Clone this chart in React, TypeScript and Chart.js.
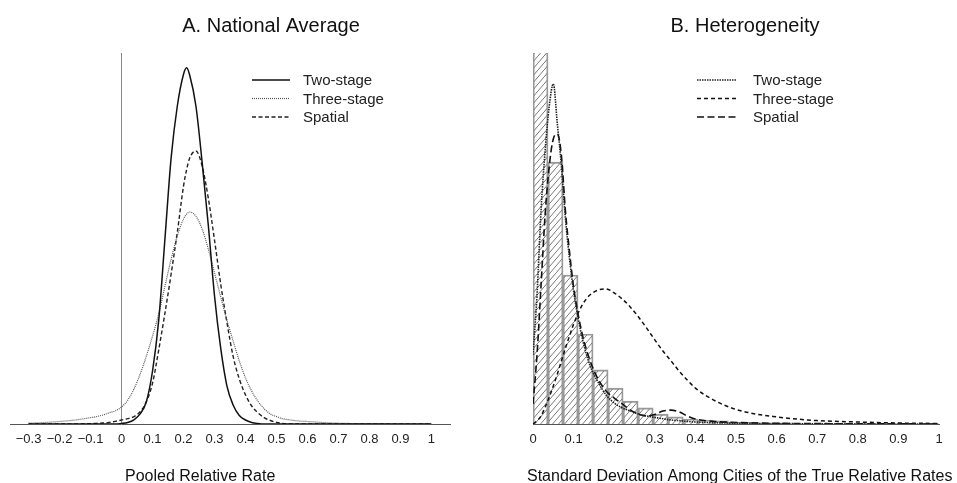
import React, { useEffect, useRef } from "react";
import { Chart, registerables } from "chart.js";

Chart.register(...registerables);

const FONT = "'Liberation Sans', Arial, Helvetica, sans-serif";
Chart.defaults.font.family = FONT;
Chart.defaults.color = "#222";

// ---------- Panel A: National Average ----------
const A_X = [-0.3, -0.25, -0.2, -0.15, -0.1, -0.08, -0.06, -0.04, -0.02,
  0, 0.02, 0.04, 0.06, 0.08, 0.1, 0.12, 0.14, 0.16, 0.18, 0.2, 0.21, 0.22, 0.24, 0.26, 0.28, 0.3,
  0.32, 0.34, 0.36, 0.38, 0.4, 0.42, 0.44, 0.46, 0.48, 0.5, 0.52, 0.54, 0.56, 0.58, 0.6,
  0.65, 0.7, 0.8, 0.9, 1.0];
const A_TWO_STAGE = [0, 0, 0, 0, 0, 0, 0, 0, 0,
  0.01, 0.03, 0.08, 0.19, 0.42, 1.0, 1.96, 3.49, 5.02, 6.0, 6.6, 6.72, 6.58, 6.0, 4.94, 3.75, 2.42,
  1.43, 0.72, 0.36, 0.16, 0.075, 0.03, 0.01, 0, 0, 0, 0, 0, 0, 0, 0,
  0, 0, 0, 0, 0];
const A_THREE_STAGE = [0.015, 0.028, 0.047, 0.075, 0.12, 0.14, 0.17, 0.21, 0.25,
  0.32, 0.45, 0.66, 0.94, 1.28, 1.66, 2.08, 2.6, 3.11, 3.55, 3.87, 3.96, 4.0, 3.92, 3.68, 3.3, 2.85,
  2.4, 1.96, 1.57, 1.19, 0.87, 0.62, 0.43, 0.29, 0.19, 0.14, 0.1, 0.08, 0.064, 0.053, 0.047,
  0.028, 0.015, 0.004, 0, 0];
const A_SPATIAL = [0, 0, 0, 0.002, 0.006, 0.012, 0.02, 0.03, 0.05,
  0.075, 0.1, 0.14, 0.23, 0.42, 0.77, 1.4, 2.09, 2.83, 3.62, 4.49, 4.8, 5.02, 5.15, 4.87, 4.26, 3.47,
  2.64, 1.92, 1.28, 0.85, 0.55, 0.34, 0.21, 0.12, 0.066, 0.03, 0.011, 0.004, 0, 0, 0,
  0, 0, 0, 0, 0];
const A_TICKS = [-0.3, -0.2, -0.1, 0, 0.1, 0.2, 0.3, 0.4, 0.5, 0.6, 0.7, 0.8, 0.9, 1];
const A_TICK_LABELS = ["\u22120.3", "\u22120.2", "\u22120.1", "0", "0.1", "0.2", "0.3", "0.4", "0.5", "0.6", "0.7", "0.8", "0.9", "1"];

// ---------- Panel B: Heterogeneity ----------
const B_X = [0, 0.01, 0.02, 0.03, 0.04, 0.05, 0.06, 0.07, 0.08, 0.09, 0.1,
  0.12, 0.14, 0.16, 0.18, 0.2, 0.22, 0.24, 0.26, 0.28, 0.3, 0.32, 0.34, 0.36, 0.38, 0.4,
  0.45, 0.5, 0.55, 0.6, 0.65, 0.7, 0.8, 0.9, 1.0];
const B_TWO_STAGE = [2.23, 4.2, 6.95, 8.86, 10.28, 11.0, 9.7, 8.34, 6.63, 5.34, 4.3,
  2.85, 1.91, 1.36, 0.94, 0.68, 0.52, 0.42, 0.32, 0.26, 0.21, 0.17, 0.13, 0.11, 0.084, 0.065,
  0.039, 0.026, 0.019, 0.013, 0.01, 0.006, 0.003, 0.002, 0];
const B_THREE_STAGE = [0, 0.1, 0.26, 0.55, 0.87, 1.23, 1.62, 2.04, 2.46, 2.85, 3.23,
  3.82, 4.17, 4.33, 4.37, 4.24, 4.04, 3.78, 3.46, 3.1, 2.72, 2.36, 2.04, 1.71, 1.42, 1.16,
  0.74, 0.47, 0.32, 0.23, 0.16, 0.11, 0.065, 0.032, 0.016];
const B_SPATIAL = [0.65, 2.26, 4.53, 6.79, 8.34, 9.22, 9.38, 8.67, 6.86, 5.56, 4.43,
  2.98, 2.07, 1.46, 1.07, 0.84, 0.65, 0.45, 0.32, 0.26, 0.31, 0.42, 0.45, 0.39, 0.26, 0.16,
  0.08, 0.049, 0.032, 0.023, 0.016, 0.013, 0.006, 0.003, 0.002];
const HIST_X = [0.0185, 0.0555, 0.0925, 0.1295, 0.1665, 0.2035, 0.2405, 0.2775, 0.3145,
  0.3515, 0.3885, 0.4255, 0.4625, 0.4995, 0.5365, 0.5735, 0.6105];
const HIST_Y = [14, 8.47, 4.82, 2.91, 1.75, 1.16, 0.74, 0.52, 0.32, 0.23, 0.16, 0.13, 0.1,
  0.065, 0.05, 0.03, 0.02];
const B_TICKS = [0, 0.1, 0.2, 0.3, 0.4, 0.5, 0.6, 0.7, 0.8, 0.9, 1];
const B_TICK_LABELS = ["0", "0.1", "0.2", "0.3", "0.4", "0.5", "0.6", "0.7", "0.8", "0.9", "1"];

const pts = (xs: number[], ys: number[]) => xs.map((x, i) => ({ x, y: ys[i] }));

const panelText = {
  id: "panelText",
  afterDraw(chart: any, _args: any, opts: any) {
    const ctx: CanvasRenderingContext2D = chart.ctx;
    ctx.save();
    ctx.fillStyle = "#111";
    ctx.textAlign = "center";
    ctx.textBaseline = "alphabetic";
    ctx.font = `20px ${FONT}`;
    ctx.fillText(opts.title, opts.titleX, opts.titleY);
    ctx.font = `16px ${FONT}`;
    ctx.textAlign = "left";
    ctx.fillText(opts.xTitle, opts.xTitleX, opts.xTitleY);
    ctx.font = `15px ${FONT}`;
    ctx.textBaseline = "middle";
    let row = 0;
    chart.data.datasets.forEach((ds: any) => {
      if (ds.type === "bar") return;
      const y = opts.legendY + row * opts.legendRow;
      ctx.save();
      ctx.strokeStyle = ds.borderColor;
      ctx.lineWidth = ds.borderWidth;
      ctx.setLineDash(ds.borderDash || []);
      ctx.beginPath();
      ctx.moveTo(opts.legendX, y);
      ctx.lineTo(opts.legendX + opts.legendLine, y);
      ctx.stroke();
      ctx.restore();
      ctx.fillStyle = "#222";
      ctx.fillText(ds.label, opts.legendX + opts.legendLine + opts.legendGap, y + 1);
      row++;
    });
    ctx.restore();
  },
};

function makeHatch(): CanvasPattern | string {
  const c = document.createElement("canvas");
  c.width = 6;
  c.height = 7;
  const g = c.getContext("2d");
  if (!g) return "rgba(0,0,0,0)";
  g.strokeStyle = "#7a7a7a";
  g.lineWidth = 1;
  g.beginPath();
  g.moveTo(-1, 7 + 7 / 6);
  g.lineTo(7, -7 / 6);
  g.stroke();
  return g.createPattern(c, "repeat") || "rgba(0,0,0,0)";
}

function xScale(min: number, max: number, ticks: number[], labels: string[], borderColor: string) {
  return {
    type: "linear",
    min,
    max,
    offset: false,
    afterBuildTicks: (s: any) => {
      s.ticks = ticks.map((v) => ({ value: v }));
    },
    ticks: {
      autoSkip: false,
      maxRotation: 0,
      padding: 8,
      font: { size: 13 },
      color: "#222",
      callback: (_v: any, i: number) => labels[i],
    },
    grid: { display: false, drawTicks: false, offset: false },
    border: { display: true, color: borderColor, width: 1 },
  };
}

function buildA(): any {
  return {
    type: "line",
    data: {
      datasets: [
        { label: "Two-stage", data: pts(A_X, A_TWO_STAGE), borderColor: "#111", borderWidth: 1.5, borderDash: [] },
        { label: "Three-stage", data: pts(A_X, A_THREE_STAGE), borderColor: "#555", borderWidth: 1.2, borderDash: [1, 1] },
        { label: "Spatial", data: pts(A_X, A_SPATIAL), borderColor: "#222", borderWidth: 1.4, borderDash: [4, 2.5] },
      ],
    },
    options: {
      responsive: false,
      animation: false,
      layout: { padding: { left: 10, right: 28, top: 53, bottom: 27.4 } },
      elements: { point: { radius: 0 }, line: { cubicInterpolationMode: "monotone", fill: false } },
      plugins: {
        legend: { display: false },
        tooltip: { enabled: false },
        title: { display: false },
        panelText: {
          title: "A. National Average", titleX: 271, titleY: 32,
          xTitle: "Pooled Relative Rate", xTitleX: 125, xTitleY: 481,
          legendX: 252, legendY: 80, legendRow: 18.5, legendLine: 38, legendGap: 13,
        },
      },
      scales: {
        x: xScale(-0.36, 1.06, A_TICKS, A_TICK_LABELS, "#555"),
        y: {
          type: "linear",
          position: { x: 0 },
          min: 0,
          max: 7,
          ticks: { display: false },
          grid: { display: false, drawTicks: false },
          border: { display: true, color: "#888", width: 1 },
        },
      },
    },
    plugins: [panelText],
  };
}

function buildB(): any {
  return {
    type: "line",
    data: {
      datasets: [
        { label: "Two-stage", data: pts(B_X, B_TWO_STAGE), borderColor: "#222", borderWidth: 1.6, borderDash: [1.5, 1] },
        { label: "Three-stage", data: pts(B_X, B_THREE_STAGE), borderColor: "#111", borderWidth: 1.5, borderDash: [4, 3] },
        { label: "Spatial", data: pts(B_X, B_SPATIAL), borderColor: "#111", borderWidth: 1.6, borderDash: [7, 3.5] },
        {
          type: "bar",
          label: "Histogram",
          data: pts(HIST_X, HIST_Y),
          backgroundColor: makeHatch(),
          borderColor: "#999",
          borderWidth: 1.2,
          borderSkipped: "start",
          barPercentage: 1,
          categoryPercentage: 1,
          order: 5,
          clip: 0,
        },
      ],
    },
    options: {
      responsive: false,
      animation: false,
      layout: { padding: { left: 55, right: 18, top: 53, bottom: 27.4 } },
      elements: { point: { radius: 0 }, line: { cubicInterpolationMode: "monotone", fill: false } },
      plugins: {
        legend: { display: false },
        tooltip: { enabled: false },
        title: { display: false },
        panelText: {
          title: "B. Heterogeneity", titleX: 267, titleY: 32,
          xTitle: "Standard Deviation Among Cities of the True Relative Rates", xTitleX: 49, xTitleY: 481,
          legendX: 219, legendY: 80, legendRow: 18.5, legendLine: 40, legendGap: 16,
        },
      },
      scales: {
        x: xScale(0, 1, B_TICKS, B_TICK_LABELS, "#555"),
        y: { type: "linear", display: false, min: 0, max: 12 },
      },
    },
    plugins: [panelText],
  };
}

function Panel({ build, left, width }: { build: () => any; left: number; width: number }) {
  const ref = useRef<HTMLCanvasElement>(null);
  useEffect(() => {
    if (!ref.current) return;
    const chart = new Chart(ref.current, build());
    return () => chart.destroy();
  }, []);
  return (
    <canvas
      ref={ref}
      width={width}
      height={483}
      style={{ position: "absolute", left, top: 0, width, height: 483 }}
    />
  );
}

export default function App() {
  return (
    <div style={{ position: "absolute", left: 0, top: 0, width: 957, height: 483, background: "#fff", overflow: "hidden" }}>
      <Panel build={buildA} left={0} width={478} />
      <Panel build={buildB} left={478} width={479} />
    </div>
  );
}
